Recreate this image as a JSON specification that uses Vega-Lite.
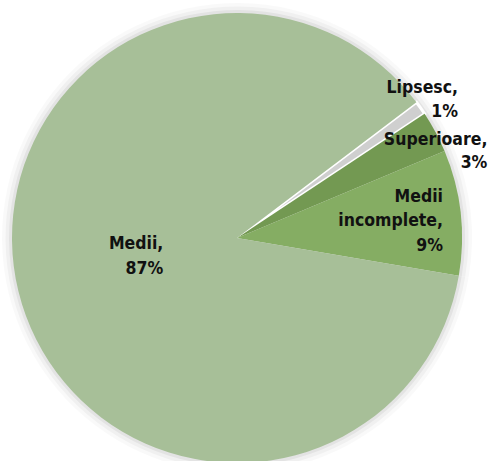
{
  "$schema": "https://vega.github.io/schema/vega-lite/v6.json",
  "width": 474,
  "height": 446,
  "autosize": "none",
  "padding": {"left": 0, "top": 15, "right": 14, "bottom": 0},
  "background": "white",
  "config": {"view": {"stroke": null}},
  "data": {
    "values": [
      {"cat": "Lipsesc", "value": 1, "order": 1, "label": ["Lipsesc,", "1%"]},
      {"cat": "Superioare", "value": 3, "order": 2, "label": ["Superioare,", "3%"]},
      {"cat": "Medii incomplete", "value": 9, "order": 3, "label": ["Medii", "incomplete,", "9%"]},
      {"cat": "Medii", "value": 87, "order": 4, "label": ["Medii,", "87%"]}
    ]
  },
  "encoding": {
    "theta": {"field": "value", "type": "quantitative", "stack": true, "scale": {"range": [0.923, 7.206]}},
    "order": {"field": "order", "type": "quantitative"}
  },
  "layer": [
    {"mark": {"type": "arc", "radius": 235, "color": "#000000", "opacity": 0.025}},
    {"mark": {"type": "arc", "radius": 231.5, "color": "#000000", "opacity": 0.035}},
    {"mark": {"type": "arc", "radius": 228, "color": "#000000", "opacity": 0.05}},
    {
      "mark": {"type": "arc", "radius": 225, "stroke": "white"},
      "encoding": {
        "color": {
          "field": "cat", "type": "nominal", "legend": null,
          "scale": {"domain": ["Lipsesc", "Superioare", "Medii incomplete", "Medii"], "range": ["#cfcfcf", "#739952", "#85ad63", "#a7bf98"]}
        },
        "strokeWidth": {"condition": {"test": "datum.cat === 'Lipsesc'", "value": 3}, "value": 0}
      }
    },
    {
      "mark": {"type": "text", "radius": 239, "dx": 26, "dy": -11.5, "align": "right", "baseline": "middle", "lineHeight": 23.5, "fontSize": 17.5, "fontWeight": "bold", "font": "DejaVu Sans Condensed, sans-serif", "color": "#111111"},
      "encoding": {"text": {"condition": {"test": "datum.cat === 'Lipsesc'", "field": "label"}, "value": ""}}
    },
    {
      "mark": {"type": "text", "radius": 183, "dx": 89, "dy": -12, "align": "right", "baseline": "middle", "lineHeight": 23.5, "fontSize": 17.5, "fontWeight": "bold", "font": "DejaVu Sans Condensed, sans-serif", "color": "#111111"},
      "encoding": {"text": {"condition": {"test": "datum.cat === 'Superioare'", "field": "label"}, "value": ""}}
    },
    {
      "mark": {"type": "text", "radius": 150, "dx": 57, "dy": -24, "align": "right", "baseline": "middle", "lineHeight": 24.5, "fontSize": 17.5, "fontWeight": "bold", "font": "DejaVu Sans Condensed, sans-serif", "color": "#111111"},
      "encoding": {"text": {"condition": {"test": "datum.cat === 'Medii incomplete'", "field": "label"}, "value": ""}}
    },
    {
      "mark": {"type": "text", "radius": 80, "dx": 4, "dy": -12.5, "align": "right", "baseline": "middle", "lineHeight": 25, "fontSize": 17.5, "fontWeight": "bold", "font": "DejaVu Sans Condensed, sans-serif", "color": "#111111"},
      "encoding": {"text": {"condition": {"test": "datum.cat === 'Medii'", "field": "label"}, "value": ""}}
    }
  ]
}
